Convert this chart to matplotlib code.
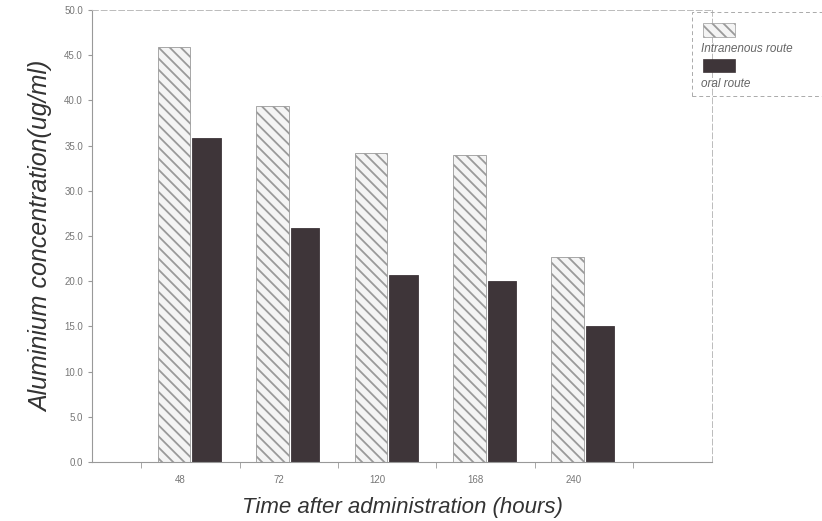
import matplotlib.pyplot as plt
import numpy as np
from matplotlib.patches import Rectangle

plt.rcParams['font.family'] = ['Liberation Sans', 'DejaVu Sans']
plt.rcParams['hatch.color'] = '#8a8a8a'
plt.rcParams['hatch.linewidth'] = 1.3

hours = ['48', '72', '120', '168', '240']
iv_route = [45.9, 39.4, 34.2, 34.0, 22.7]
oral_route = [35.8, 25.9, 20.7, 20.0, 15.0]

fig = plt.figure(figsize=(8.22, 5.21), dpi=100)
ax = fig.add_axes([0.112, 0.113, 0.754, 0.868])

x = np.arange(len(hours))
w = 0.33
ax.bar(x - w / 2, iv_route, w, color='#f4f4f4', edgecolor='#9a9a9a',
       hatch='\\\\\\', linewidth=0.6)
ax.bar(x + w / 2, oral_route, w * 0.88, align='center', color='#3e3539',
       edgecolor='#3e3539', linewidth=0.6)

ax.set_xlim(-1.0, 5.3)
ax.set_ylim(0, 50)
ax.set_yticks(np.arange(0, 50.1, 5))
ax.set_yticklabels(['%.1f' % v for v in np.arange(0, 50.1, 5)])
ax.set_xticks(x - 0.1)
ax.set_xticklabels(hours)
ax.set_xticks(np.arange(-0.5, 4.6, 1.0), minor=True)
ax.tick_params(axis='x', which='major', length=0, pad=9, labelsize=7, labelcolor='#777777')
ax.tick_params(axis='x', which='minor', length=4, color='#999999')
ax.tick_params(axis='y', length=3, color='#999999', labelsize=7, labelcolor='#777777')

for s in ['top', 'right']:
    ax.spines[s].set_color('#bbbbbb')
    ax.spines[s].set_linestyle((0, (6, 3)))
    ax.spines[s].set_linewidth(0.7)
for s in ['left', 'bottom']:
    ax.spines[s].set_color('#999999')
    ax.spines[s].set_linewidth(0.8)

ax.set_ylabel('Aluminium concentration(ug/ml)', fontsize=18, style='italic',
              color='#333333', labelpad=8)
ax.set_xlabel('Time after administration (hours)', fontsize=16, style='italic',
              color='#333333', labelpad=9)

# legend box drawn by hand: swatch above its label
fig.patches.append(Rectangle((0.842, 0.816), 0.16, 0.161, transform=fig.transFigure,
                             fill=False, edgecolor='#aaaaaa', linestyle=(0, (4, 3)),
                             linewidth=0.7))
fig.patches.append(Rectangle((0.855, 0.929), 0.039, 0.027, transform=fig.transFigure,
                             facecolor='#f4f4f4', edgecolor='#9a9a9a', hatch='\\\\\\',
                             linewidth=0.5))
fig.text(0.853, 0.906, 'Intranenous route', fontsize=8.5, style='italic',
         color='#666666', va='center')
fig.patches.append(Rectangle((0.855, 0.862), 0.039, 0.025, transform=fig.transFigure,
                             facecolor='#3e3539', edgecolor='#3e3539', linewidth=0.5))
fig.text(0.853, 0.839, 'oral route', fontsize=8.5, style='italic',
         color='#666666', va='center')

fig.savefig('out.png', dpi=100)
